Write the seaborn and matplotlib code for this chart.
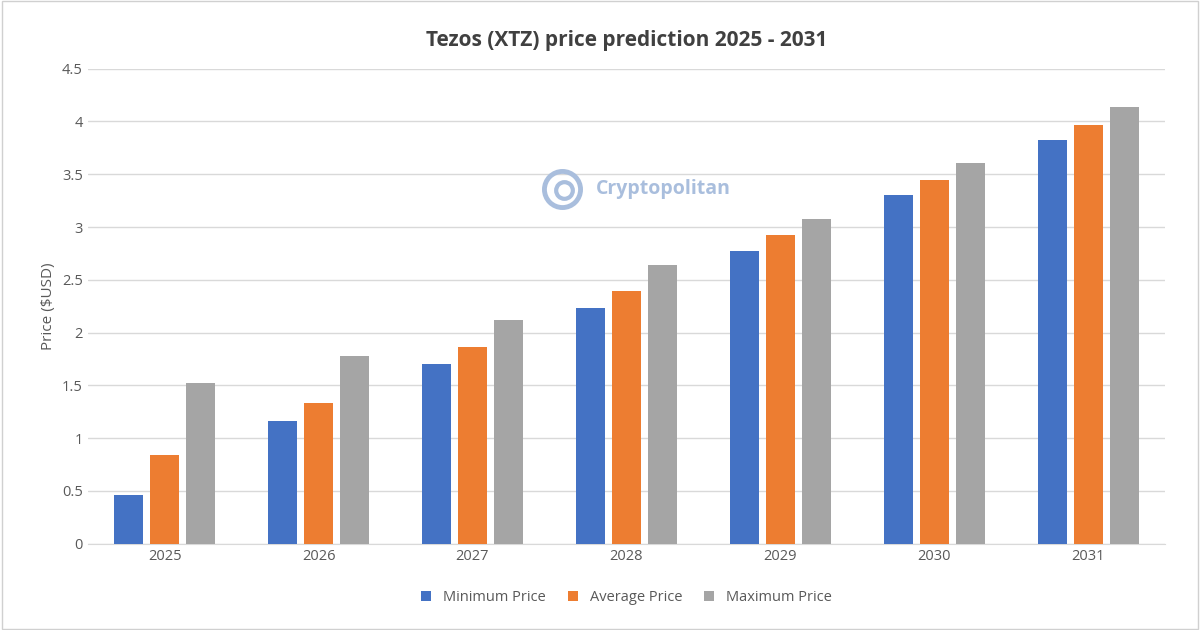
import pandas as pd
import seaborn as sns
import matplotlib.pyplot as plt
from matplotlib.patches import Rectangle
from matplotlib.lines import Line2D

years = ["2025", "2026", "2027", "2028", "2029", "2030", "2031"]
min_price = [0.46, 1.16, 1.70, 2.23, 2.77, 3.30, 3.82]
avg_price = [0.84, 1.33, 1.86, 2.39, 2.92, 3.45, 3.97]
max_price = [1.52, 1.78, 2.12, 2.64, 3.08, 3.61, 4.14]
series = ["Minimum Price", "Average Price", "Maximum Price"]
colors = ["#4472C4", "#ED7D31", "#A5A5A5"]

df = pd.DataFrame({"year": years, series[0]: min_price,
                   series[1]: avg_price, series[2]: max_price})
long = df.melt(id_vars="year", var_name="series", value_name="price")

sns.set_style("white")
plt.rcParams["font.family"] = "Open Sans"
fig = plt.figure(figsize=(12, 6.3), dpi=100)
ax = fig.add_axes([0.073, 0.137, 0.898, 0.754])

sns.barplot(data=long, x="year", y="price", hue="series", hue_order=series,
            palette=colors, saturation=1, width=0.7, gap=0.2, linewidth=0,
            ax=ax, zorder=3)

ax.set_ylim(0, 4.5)
ax.set_yticks([0, 0.5, 1, 1.5, 2, 2.5, 3, 3.5, 4, 4.5])
ax.set_yticklabels(["0", "0.5", "1", "1.5", "2", "2.5", "3", "3.5", "4", "4.5"])
ax.yaxis.grid(True, color="#D9D9D9", linewidth=1, zorder=0)
for s in ["top", "right", "left"]:
    ax.spines[s].set_visible(False)
ax.spines["bottom"].set_color("#D9D9D9")
ax.tick_params(axis="both", length=0, labelsize=10.5, colors="#595959")
ax.set_xlabel("")
ax.set_ylabel("Price ($USD)", fontsize=11, color="#595959")
ax.set_title("Tezos (XTZ) price prediction 2025 - 2031", fontsize=15,
             fontweight="bold", color="#404040", pad=16)

ax.legend(loc="upper center", bbox_to_anchor=(0.5, -0.07), ncol=3,
          frameon=False, fontsize=10.5, handlelength=0.7, handleheight=0.7,
          columnspacing=1.5, labelcolor="#595959")

# watermark
fig.text(0.553, 0.70, "Cryptopolitan", fontsize=14, fontweight="bold",
         color="#A9BEDD", ha="center", va="center")
fig.add_artist(Line2D([0.468], [0.70], transform=fig.transFigure, marker="o",
                      markersize=26, markerfacecolor="none",
                      markeredgecolor="#A9BEDD", markeredgewidth=3.5))
fig.add_artist(Line2D([0.470], [0.698], transform=fig.transFigure, marker="o",
                      markersize=12, markerfacecolor="none",
                      markeredgecolor="#A9BEDD", markeredgewidth=3))

fig.patches.append(Rectangle((0.002, 0.002), 0.996, 0.996, transform=fig.transFigure,
                             fill=False, edgecolor="#D0D0D0", linewidth=1))

fig.savefig("out.png", dpi=100)
